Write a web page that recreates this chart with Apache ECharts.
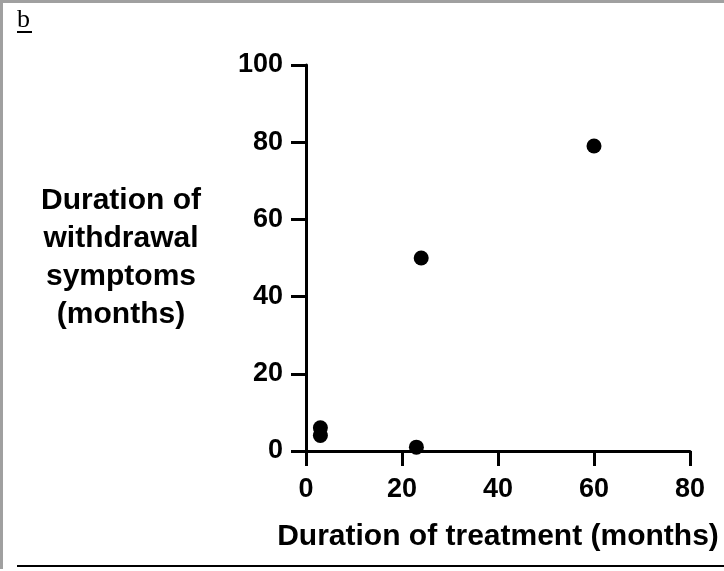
<!DOCTYPE html>
<html>
<head>
<meta charset="utf-8">
<script src="https://cdn.jsdelivr.net/npm/echarts@6/dist/echarts.min.js"></script>
<style>
  html, body { margin: 0; padding: 0; background: #fff; }
  #chart { width: 724px; height: 571px; }
</style>
</head>
<body>
<div id="chart"></div>
<script>
var dom = document.getElementById('chart');
var chart = echarts.init(dom);

// duration of treatment (months) vs duration of withdrawal symptoms (months)
var treatment = [3, 3, 23, 24, 60];
var withdrawal = [6, 4, 1, 50, 79];

var xTitle = 'Duration of treatment (months)';
var yTitle = 'Duration of\nwithdrawal\nsymptoms\n(months)';
var panel = 'b';

var points = treatment.map(function (t, i) {
	return [t, withdrawal[i]];
});

var font = '"Liberation Sans", Arial, sans-serif';

var option = {
	animation: false,
	backgroundColor: '#fff',
	grid: {
		left: 306,
		right: 34,
		top: 65,
		bottom: 120
	},
	xAxis: {
		type: 'value',
		min: 0,
		max: 80,
		interval: 20,
		name: xTitle,
		nameLocation: 'middle',
		nameGap: 71,
		nameTextStyle: {
			fontFamily: font,
			fontWeight: 'bold',
			fontSize: 30,
			lineHeight: 30,
			color: '#000'
		},
		axisLine: { lineStyle: { color: '#000', width: 3 } },
		axisTick: { length: 15, lineStyle: { color: '#000', width: 3 } },
		axisLabel: {
			margin: 25,
			fontFamily: font,
			fontWeight: 'bold',
			fontSize: 27,
			color: '#000'
		},
		splitLine: { show: false }
	},
	yAxis: {
		type: 'value',
		min: 0,
		max: 100,
		interval: 20,
		name: yTitle,
		nameLocation: 'middle',
		nameRotate: 0,
		nameGap: 185,
		nameTextStyle: {
			fontFamily: font,
			fontWeight: 'bold',
			fontSize: 30,
			lineHeight: 38,
			align: 'center',
			verticalAlign: 'middle',
			padding: [8, 0, 0, 0],
			color: '#000'
		},
		axisLine: { show: true, lineStyle: { color: '#000', width: 3 } },
		axisTick: { show: true, length: 15, lineStyle: { color: '#000', width: 3 } },
		axisLabel: {
			margin: 23,
			fontFamily: font,
			fontWeight: 'bold',
			fontSize: 27,
			color: '#000'
		},
		splitLine: { show: false }
	},
	series: [{
		type: 'scatter',
		symbol: 'circle',
		symbolSize: 15,
		itemStyle: { color: '#000', opacity: 1 },
		data: points
	}],
	graphic: [
		{ type: 'rect', shape: { x: 0, y: 0, width: 724, height: 3 }, style: { fill: '#a0a0a0' } },
		{ type: 'rect', shape: { x: 0, y: 0, width: 3, height: 569 }, style: { fill: '#a0a0a0' } },
		{ type: 'rect', shape: { x: 17, y: 565, width: 707, height: 2 }, style: { fill: '#000' } },
		{
			type: 'text',
			left: 17,
			top: 7,
			style: {
				text: panel,
				font: '26px "Liberation Serif", "Times New Roman", serif',
				fill: '#000'
			}
		},
		{ type: 'rect', shape: { x: 17, y: 31, width: 15, height: 2 }, style: { fill: '#000' } }
	]
};

chart.setOption(option);
</script>
</body>
</html>
